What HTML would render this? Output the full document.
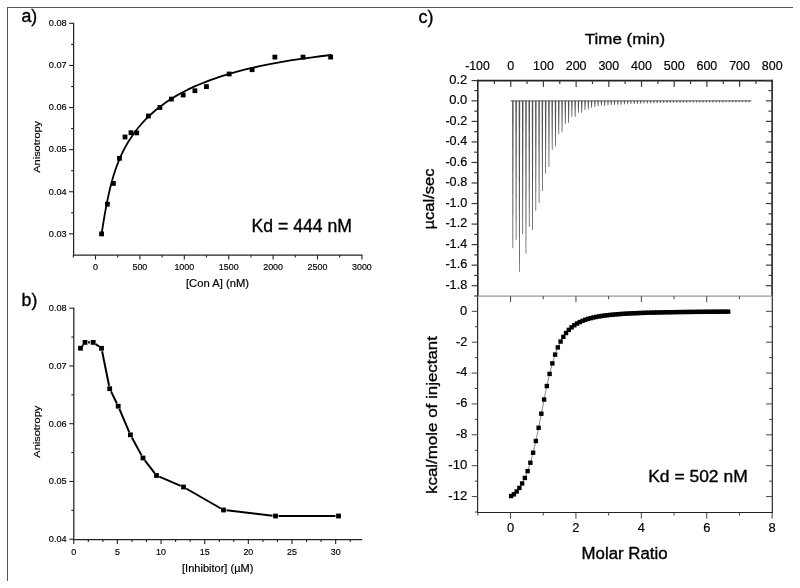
<!DOCTYPE html>
<html><head><meta charset="utf-8"><title>Figure</title>
<style>html,body{margin:0;padding:0;background:#fff}svg{display:block}text{font-family:"Liberation Sans",Arial,Helvetica,sans-serif}</style>
</head><body>
<svg width="800" height="588" viewBox="0 0 800 588">
<rect width="800" height="588" fill="#fff"/>
<line x1="7.00" y1="7.50" x2="793.00" y2="7.50" stroke="#555" stroke-width="1" />
<line x1="7.50" y1="7.00" x2="7.50" y2="581.00" stroke="#555" stroke-width="1" />
<line x1="73.60" y1="22.85" x2="73.60" y2="255.60" stroke="#222" stroke-width="1.25" />
<line x1="73.00" y1="255.00" x2="362.40" y2="255.00" stroke="#222" stroke-width="1.25" />
<line x1="69.10" y1="233.85" x2="73.60" y2="233.85" stroke="#222" stroke-width="1.1" />
<text x="66.60" y="236.65" font-size="9.4" text-anchor="end" fill="#000" stroke="#000" stroke-width="0.18" textLength="17.80" lengthAdjust="spacingAndGlyphs">0.03</text>
<line x1="71.10" y1="212.80" x2="73.60" y2="212.80" stroke="#222" stroke-width="1.1" />
<line x1="69.10" y1="191.75" x2="73.60" y2="191.75" stroke="#222" stroke-width="1.1" />
<text x="66.60" y="194.55" font-size="9.4" text-anchor="end" fill="#000" stroke="#000" stroke-width="0.18" textLength="17.80" lengthAdjust="spacingAndGlyphs">0.04</text>
<line x1="71.10" y1="170.70" x2="73.60" y2="170.70" stroke="#222" stroke-width="1.1" />
<line x1="69.10" y1="149.65" x2="73.60" y2="149.65" stroke="#222" stroke-width="1.1" />
<text x="66.60" y="152.45" font-size="9.4" text-anchor="end" fill="#000" stroke="#000" stroke-width="0.18" textLength="17.80" lengthAdjust="spacingAndGlyphs">0.05</text>
<line x1="71.10" y1="128.60" x2="73.60" y2="128.60" stroke="#222" stroke-width="1.1" />
<line x1="69.10" y1="107.55" x2="73.60" y2="107.55" stroke="#222" stroke-width="1.1" />
<text x="66.60" y="110.35" font-size="9.4" text-anchor="end" fill="#000" stroke="#000" stroke-width="0.18" textLength="17.80" lengthAdjust="spacingAndGlyphs">0.06</text>
<line x1="71.10" y1="86.50" x2="73.60" y2="86.50" stroke="#222" stroke-width="1.1" />
<line x1="69.10" y1="65.45" x2="73.60" y2="65.45" stroke="#222" stroke-width="1.1" />
<text x="66.60" y="68.25" font-size="9.4" text-anchor="end" fill="#000" stroke="#000" stroke-width="0.18" textLength="17.80" lengthAdjust="spacingAndGlyphs">0.07</text>
<line x1="71.10" y1="44.40" x2="73.60" y2="44.40" stroke="#222" stroke-width="1.1" />
<line x1="69.10" y1="23.35" x2="73.60" y2="23.35" stroke="#222" stroke-width="1.1" />
<text x="66.60" y="26.15" font-size="9.4" text-anchor="end" fill="#000" stroke="#000" stroke-width="0.18" textLength="17.80" lengthAdjust="spacingAndGlyphs">0.08</text>
<line x1="73.30" y1="255.00" x2="73.30" y2="257.50" stroke="#222" stroke-width="1.1" />
<line x1="95.50" y1="255.00" x2="95.50" y2="259.50" stroke="#222" stroke-width="1.1" />
<text x="95.50" y="269.80" font-size="9.4" text-anchor="middle" fill="#000" stroke="#000" stroke-width="0.18" textLength="4.95" lengthAdjust="spacingAndGlyphs">0</text>
<line x1="117.70" y1="255.00" x2="117.70" y2="257.50" stroke="#222" stroke-width="1.1" />
<line x1="139.90" y1="255.00" x2="139.90" y2="259.50" stroke="#222" stroke-width="1.1" />
<text x="139.90" y="269.80" font-size="9.4" text-anchor="middle" fill="#000" stroke="#000" stroke-width="0.18" textLength="14.85" lengthAdjust="spacingAndGlyphs">500</text>
<line x1="162.10" y1="255.00" x2="162.10" y2="257.50" stroke="#222" stroke-width="1.1" />
<line x1="184.30" y1="255.00" x2="184.30" y2="259.50" stroke="#222" stroke-width="1.1" />
<text x="184.30" y="269.80" font-size="9.4" text-anchor="middle" fill="#000" stroke="#000" stroke-width="0.18" textLength="19.80" lengthAdjust="spacingAndGlyphs">1000</text>
<line x1="206.50" y1="255.00" x2="206.50" y2="257.50" stroke="#222" stroke-width="1.1" />
<line x1="228.70" y1="255.00" x2="228.70" y2="259.50" stroke="#222" stroke-width="1.1" />
<text x="228.70" y="269.80" font-size="9.4" text-anchor="middle" fill="#000" stroke="#000" stroke-width="0.18" textLength="19.80" lengthAdjust="spacingAndGlyphs">1500</text>
<line x1="250.90" y1="255.00" x2="250.90" y2="257.50" stroke="#222" stroke-width="1.1" />
<line x1="273.10" y1="255.00" x2="273.10" y2="259.50" stroke="#222" stroke-width="1.1" />
<text x="273.10" y="269.80" font-size="9.4" text-anchor="middle" fill="#000" stroke="#000" stroke-width="0.18" textLength="19.80" lengthAdjust="spacingAndGlyphs">2000</text>
<line x1="295.30" y1="255.00" x2="295.30" y2="257.50" stroke="#222" stroke-width="1.1" />
<line x1="317.50" y1="255.00" x2="317.50" y2="259.50" stroke="#222" stroke-width="1.1" />
<text x="317.50" y="269.80" font-size="9.4" text-anchor="middle" fill="#000" stroke="#000" stroke-width="0.18" textLength="19.80" lengthAdjust="spacingAndGlyphs">2500</text>
<line x1="339.70" y1="255.00" x2="339.70" y2="257.50" stroke="#222" stroke-width="1.1" />
<line x1="361.90" y1="255.00" x2="361.90" y2="259.50" stroke="#222" stroke-width="1.1" />
<text x="361.90" y="269.80" font-size="9.4" text-anchor="middle" fill="#000" stroke="#000" stroke-width="0.18" textLength="19.80" lengthAdjust="spacingAndGlyphs">3000</text>
<text x="40.20" y="146.80" font-size="9.5" text-anchor="middle" fill="#000" stroke="#000" stroke-width="0.18" textLength="51.80" lengthAdjust="spacingAndGlyphs" transform="rotate(-90 40.20 146.80)">Anisotropy</text>
<text x="217.50" y="286.80" font-size="10.3" text-anchor="middle" fill="#000" stroke="#000" stroke-width="0.18" textLength="63.00" lengthAdjust="spacingAndGlyphs">[Con A] (nM)</text>
<text x="251.50" y="231.80" font-size="18" text-anchor="start" fill="#000" stroke="#000" stroke-width="0.35" textLength="100.50" lengthAdjust="spacingAndGlyphs">Kd = 444 nM</text>
<text x="21.50" y="22.00" font-size="17.6" text-anchor="start" fill="#000" stroke="#000" stroke-width="0.35" textLength="15.80" lengthAdjust="spacingAndGlyphs">a)</text>
<path d="M101.56,233.98 L101.75,232.84 L101.95,231.62 L102.15,230.34 L102.37,228.98 L102.60,227.56 L102.84,226.07 L103.08,224.51 L103.34,222.90 L103.62,221.22 L103.90,219.49 L104.20,217.70 L104.51,215.86 L104.84,213.97 L105.18,212.03 L105.54,210.04 L105.91,208.00 L106.30,205.92 L106.71,203.80 L107.14,201.64 L107.59,199.44 L108.06,197.21 L108.55,194.95 L109.07,192.66 L109.61,190.34 L110.17,188.00 L110.76,185.65 L111.38,183.27 L112.02,180.89 L112.70,178.50 L113.41,176.10 L114.15,173.70 L114.93,171.29 L115.74,168.90 L116.59,166.51 L117.48,164.12 L118.41,161.75 L119.38,159.39 L120.40,157.04 L121.46,154.69 L122.58,152.35 L123.75,150.02 L124.97,147.69 L126.25,145.37 L127.59,143.06 L128.99,140.75 L130.46,138.44 L131.99,136.14 L133.60,133.85 L135.28,131.56 L137.04,129.28 L138.88,127.00 L140.81,124.73 L142.83,122.46 L144.94,120.21 L147.15,117.96 L149.46,115.71 L151.88,113.48 L154.41,111.26 L157.06,109.05 L159.84,106.85 L162.74,104.67 L165.78,102.50 L168.96,100.36 L172.29,98.23 L175.77,96.12 L179.42,94.03 L183.23,91.97 L187.23,89.93 L191.41,87.92 L195.78,85.94 L200.36,83.98 L205.15,82.05 L210.16,80.16 L215.41,78.29 L220.90,76.46 L226.65,74.66 L232.66,72.90 L238.96,71.17 L245.55,69.49 L252.44,67.84 L259.66,66.23 L267.21,64.66 L275.11,63.14 L283.39,61.66 L292.04,60.23 L301.11,58.85 L310.59,57.52 L320.51,56.24 L330.90,55.01" fill="none" stroke="#000" stroke-width="1.8" stroke-linejoin="round" stroke-linecap="round"/>
<rect x="99.16" y="231.50" width="4.8" height="4.8" fill="#000"/>
<rect x="105.00" y="201.80" width="4.8" height="4.8" fill="#000"/>
<rect x="111.00" y="181.00" width="4.8" height="4.8" fill="#000"/>
<rect x="117.10" y="155.90" width="4.8" height="4.8" fill="#000"/>
<rect x="122.60" y="134.60" width="4.8" height="4.8" fill="#000"/>
<rect x="128.60" y="130.30" width="4.8" height="4.8" fill="#000"/>
<rect x="134.30" y="130.50" width="4.8" height="4.8" fill="#000"/>
<rect x="146.00" y="113.60" width="4.8" height="4.8" fill="#000"/>
<rect x="157.50" y="105.10" width="4.8" height="4.8" fill="#000"/>
<rect x="169.00" y="96.70" width="4.8" height="4.8" fill="#000"/>
<rect x="180.80" y="92.60" width="4.8" height="4.8" fill="#000"/>
<rect x="192.50" y="88.30" width="4.8" height="4.8" fill="#000"/>
<rect x="204.05" y="84.20" width="4.8" height="4.8" fill="#000"/>
<rect x="226.80" y="71.60" width="4.8" height="4.8" fill="#000"/>
<rect x="249.70" y="67.30" width="4.8" height="4.8" fill="#000"/>
<rect x="272.45" y="54.70" width="4.8" height="4.8" fill="#000"/>
<rect x="300.60" y="54.70" width="4.8" height="4.8" fill="#000"/>
<rect x="328.25" y="54.70" width="4.8" height="4.8" fill="#000"/>
<line x1="73.80" y1="307.70" x2="73.80" y2="540.10" stroke="#222" stroke-width="1.25" />
<line x1="73.20" y1="539.50" x2="362.14" y2="539.50" stroke="#222" stroke-width="1.25" />
<line x1="69.30" y1="539.20" x2="73.80" y2="539.20" stroke="#222" stroke-width="1.1" />
<text x="66.60" y="542.00" font-size="9.4" text-anchor="end" fill="#000" stroke="#000" stroke-width="0.18" textLength="17.80" lengthAdjust="spacingAndGlyphs">0.04</text>
<line x1="71.30" y1="510.33" x2="73.80" y2="510.33" stroke="#222" stroke-width="1.1" />
<line x1="69.30" y1="481.45" x2="73.80" y2="481.45" stroke="#222" stroke-width="1.1" />
<text x="66.60" y="484.25" font-size="9.4" text-anchor="end" fill="#000" stroke="#000" stroke-width="0.18" textLength="17.80" lengthAdjust="spacingAndGlyphs">0.05</text>
<line x1="71.30" y1="452.58" x2="73.80" y2="452.58" stroke="#222" stroke-width="1.1" />
<line x1="69.30" y1="423.70" x2="73.80" y2="423.70" stroke="#222" stroke-width="1.1" />
<text x="66.60" y="426.50" font-size="9.4" text-anchor="end" fill="#000" stroke="#000" stroke-width="0.18" textLength="17.80" lengthAdjust="spacingAndGlyphs">0.06</text>
<line x1="71.30" y1="394.83" x2="73.80" y2="394.83" stroke="#222" stroke-width="1.1" />
<line x1="69.30" y1="365.95" x2="73.80" y2="365.95" stroke="#222" stroke-width="1.1" />
<text x="66.60" y="368.75" font-size="9.4" text-anchor="end" fill="#000" stroke="#000" stroke-width="0.18" textLength="17.80" lengthAdjust="spacingAndGlyphs">0.07</text>
<line x1="71.30" y1="337.08" x2="73.80" y2="337.08" stroke="#222" stroke-width="1.1" />
<line x1="69.30" y1="308.20" x2="73.80" y2="308.20" stroke="#222" stroke-width="1.1" />
<text x="66.60" y="311.00" font-size="9.4" text-anchor="end" fill="#000" stroke="#000" stroke-width="0.18" textLength="17.80" lengthAdjust="spacingAndGlyphs">0.08</text>
<line x1="73.75" y1="539.50" x2="73.75" y2="544.00" stroke="#222" stroke-width="1.1" />
<text x="73.75" y="554.60" font-size="9.4" text-anchor="middle" fill="#000" stroke="#000" stroke-width="0.18" textLength="4.95" lengthAdjust="spacingAndGlyphs">0</text>
<line x1="88.30" y1="539.50" x2="88.30" y2="542.00" stroke="#222" stroke-width="1.1" />
<line x1="102.85" y1="539.50" x2="102.85" y2="542.00" stroke="#222" stroke-width="1.1" />
<line x1="117.40" y1="539.50" x2="117.40" y2="544.00" stroke="#222" stroke-width="1.1" />
<text x="117.40" y="554.60" font-size="9.4" text-anchor="middle" fill="#000" stroke="#000" stroke-width="0.18" textLength="4.95" lengthAdjust="spacingAndGlyphs">5</text>
<line x1="131.95" y1="539.50" x2="131.95" y2="542.00" stroke="#222" stroke-width="1.1" />
<line x1="146.50" y1="539.50" x2="146.50" y2="542.00" stroke="#222" stroke-width="1.1" />
<line x1="161.05" y1="539.50" x2="161.05" y2="544.00" stroke="#222" stroke-width="1.1" />
<text x="161.05" y="554.60" font-size="9.4" text-anchor="middle" fill="#000" stroke="#000" stroke-width="0.18" textLength="9.90" lengthAdjust="spacingAndGlyphs">10</text>
<line x1="175.60" y1="539.50" x2="175.60" y2="542.00" stroke="#222" stroke-width="1.1" />
<line x1="190.15" y1="539.50" x2="190.15" y2="542.00" stroke="#222" stroke-width="1.1" />
<line x1="204.70" y1="539.50" x2="204.70" y2="544.00" stroke="#222" stroke-width="1.1" />
<text x="204.70" y="554.60" font-size="9.4" text-anchor="middle" fill="#000" stroke="#000" stroke-width="0.18" textLength="9.90" lengthAdjust="spacingAndGlyphs">15</text>
<line x1="219.25" y1="539.50" x2="219.25" y2="542.00" stroke="#222" stroke-width="1.1" />
<line x1="233.80" y1="539.50" x2="233.80" y2="542.00" stroke="#222" stroke-width="1.1" />
<line x1="248.35" y1="539.50" x2="248.35" y2="544.00" stroke="#222" stroke-width="1.1" />
<text x="248.35" y="554.60" font-size="9.4" text-anchor="middle" fill="#000" stroke="#000" stroke-width="0.18" textLength="9.90" lengthAdjust="spacingAndGlyphs">20</text>
<line x1="262.90" y1="539.50" x2="262.90" y2="542.00" stroke="#222" stroke-width="1.1" />
<line x1="277.45" y1="539.50" x2="277.45" y2="542.00" stroke="#222" stroke-width="1.1" />
<line x1="292.00" y1="539.50" x2="292.00" y2="544.00" stroke="#222" stroke-width="1.1" />
<text x="292.00" y="554.60" font-size="9.4" text-anchor="middle" fill="#000" stroke="#000" stroke-width="0.18" textLength="9.90" lengthAdjust="spacingAndGlyphs">25</text>
<line x1="306.55" y1="539.50" x2="306.55" y2="542.00" stroke="#222" stroke-width="1.1" />
<line x1="321.10" y1="539.50" x2="321.10" y2="542.00" stroke="#222" stroke-width="1.1" />
<line x1="335.65" y1="539.50" x2="335.65" y2="544.00" stroke="#222" stroke-width="1.1" />
<text x="335.65" y="554.60" font-size="9.4" text-anchor="middle" fill="#000" stroke="#000" stroke-width="0.18" textLength="9.90" lengthAdjust="spacingAndGlyphs">30</text>
<line x1="350.20" y1="539.50" x2="350.20" y2="542.00" stroke="#222" stroke-width="1.1" />
<text x="40.20" y="431.70" font-size="9.5" text-anchor="middle" fill="#000" stroke="#000" stroke-width="0.18" textLength="52.00" lengthAdjust="spacingAndGlyphs" transform="rotate(-90 40.20 431.70)">Anisotropy</text>
<text x="217.70" y="571.90" font-size="10.3" text-anchor="middle" fill="#000" stroke="#000" stroke-width="0.18" textLength="71.30" lengthAdjust="spacingAndGlyphs">[Inhibitor] (µM)</text>
<text x="21.50" y="306.00" font-size="18" text-anchor="start" fill="#000" stroke="#000" stroke-width="0.35" textLength="15.80" lengthAdjust="spacingAndGlyphs">b)</text>
<line x1="82.34" y1="345.83" x2="83.16" y2="344.77" stroke="#000" stroke-width="2.0" />
<line x1="88.00" y1="342.40" x2="90.20" y2="342.40" stroke="#000" stroke-width="2.0" />
<line x1="95.65" y1="344.14" x2="99.05" y2="346.56" stroke="#000" stroke-width="2.0" />
<line x1="102.10" y1="351.24" x2="109.10" y2="385.76" stroke="#000" stroke-width="2.0" />
<line x1="111.01" y1="391.40" x2="116.89" y2="403.50" stroke="#000" stroke-width="2.0" />
<line x1="119.38" y1="408.96" x2="129.22" y2="432.04" stroke="#000" stroke-width="2.0" />
<line x1="131.83" y1="437.44" x2="141.57" y2="455.36" stroke="#000" stroke-width="2.0" />
<line x1="144.83" y1="460.38" x2="154.67" y2="473.12" stroke="#000" stroke-width="2.0" />
<line x1="159.26" y1="476.68" x2="180.74" y2="485.82" stroke="#000" stroke-width="2.0" />
<line x1="186.10" y1="488.50" x2="220.90" y2="508.50" stroke="#000" stroke-width="2.0" />
<line x1="226.48" y1="510.34" x2="272.52" y2="515.66" stroke="#000" stroke-width="2.0" />
<line x1="278.50" y1="516.00" x2="335.50" y2="516.00" stroke="#000" stroke-width="2.0" />
<rect x="78.10" y="345.80" width="4.8" height="4.8" fill="#000"/>
<rect x="82.60" y="340.00" width="4.8" height="4.8" fill="#000"/>
<rect x="90.80" y="340.00" width="4.8" height="4.8" fill="#000"/>
<rect x="99.10" y="345.90" width="4.8" height="4.8" fill="#000"/>
<rect x="107.30" y="386.30" width="4.8" height="4.8" fill="#000"/>
<rect x="115.80" y="403.80" width="4.8" height="4.8" fill="#000"/>
<rect x="128.00" y="432.40" width="4.8" height="4.8" fill="#000"/>
<rect x="140.60" y="455.60" width="4.8" height="4.8" fill="#000"/>
<rect x="154.10" y="473.10" width="4.8" height="4.8" fill="#000"/>
<rect x="181.10" y="484.60" width="4.8" height="4.8" fill="#000"/>
<rect x="221.10" y="507.60" width="4.8" height="4.8" fill="#000"/>
<rect x="273.10" y="513.60" width="4.8" height="4.8" fill="#000"/>
<rect x="336.10" y="513.60" width="4.8" height="4.8" fill="#000"/>
<line x1="477.80" y1="79.80" x2="477.80" y2="296.20" stroke="#222" stroke-width="1.6" />
<line x1="772.10" y1="79.80" x2="772.10" y2="296.20" stroke="#222" stroke-width="1.6" />
<line x1="477.10" y1="80.60" x2="772.80" y2="80.60" stroke="#222" stroke-width="1.6" />
<line x1="471.60" y1="80.60" x2="477.80" y2="80.60" stroke="#3a3a3a" stroke-width="1.2" />
<line x1="765.90" y1="80.60" x2="772.10" y2="80.60" stroke="#3a3a3a" stroke-width="1.2" />
<text x="467.20" y="83.90" font-size="12.4" text-anchor="end" fill="#000" stroke="#000" stroke-width="0.18" textLength="18.00" lengthAdjust="spacingAndGlyphs">0.2</text>
<line x1="474.20" y1="90.58" x2="477.80" y2="90.58" stroke="#3a3a3a" stroke-width="1.2" />
<line x1="768.50" y1="90.58" x2="772.10" y2="90.58" stroke="#3a3a3a" stroke-width="1.2" />
<line x1="471.60" y1="100.85" x2="477.80" y2="100.85" stroke="#3a3a3a" stroke-width="1.2" />
<line x1="765.90" y1="100.85" x2="772.10" y2="100.85" stroke="#3a3a3a" stroke-width="1.2" />
<text x="467.20" y="104.15" font-size="12.4" text-anchor="end" fill="#000" stroke="#000" stroke-width="0.18" textLength="18.00" lengthAdjust="spacingAndGlyphs">0.0</text>
<line x1="474.20" y1="111.12" x2="477.80" y2="111.12" stroke="#3a3a3a" stroke-width="1.2" />
<line x1="768.50" y1="111.12" x2="772.10" y2="111.12" stroke="#3a3a3a" stroke-width="1.2" />
<line x1="471.60" y1="121.39" x2="477.80" y2="121.39" stroke="#3a3a3a" stroke-width="1.2" />
<line x1="765.90" y1="121.39" x2="772.10" y2="121.39" stroke="#3a3a3a" stroke-width="1.2" />
<text x="467.20" y="124.69" font-size="12.4" text-anchor="end" fill="#000" stroke="#000" stroke-width="0.18" textLength="21.80" lengthAdjust="spacingAndGlyphs">-0.2</text>
<line x1="474.20" y1="131.66" x2="477.80" y2="131.66" stroke="#3a3a3a" stroke-width="1.2" />
<line x1="768.50" y1="131.66" x2="772.10" y2="131.66" stroke="#3a3a3a" stroke-width="1.2" />
<line x1="471.60" y1="141.93" x2="477.80" y2="141.93" stroke="#3a3a3a" stroke-width="1.2" />
<line x1="765.90" y1="141.93" x2="772.10" y2="141.93" stroke="#3a3a3a" stroke-width="1.2" />
<text x="467.20" y="145.23" font-size="12.4" text-anchor="end" fill="#000" stroke="#000" stroke-width="0.18" textLength="21.80" lengthAdjust="spacingAndGlyphs">-0.4</text>
<line x1="474.20" y1="152.20" x2="477.80" y2="152.20" stroke="#3a3a3a" stroke-width="1.2" />
<line x1="768.50" y1="152.20" x2="772.10" y2="152.20" stroke="#3a3a3a" stroke-width="1.2" />
<line x1="471.60" y1="162.47" x2="477.80" y2="162.47" stroke="#3a3a3a" stroke-width="1.2" />
<line x1="765.90" y1="162.47" x2="772.10" y2="162.47" stroke="#3a3a3a" stroke-width="1.2" />
<text x="467.20" y="165.77" font-size="12.4" text-anchor="end" fill="#000" stroke="#000" stroke-width="0.18" textLength="21.80" lengthAdjust="spacingAndGlyphs">-0.6</text>
<line x1="474.20" y1="172.74" x2="477.80" y2="172.74" stroke="#3a3a3a" stroke-width="1.2" />
<line x1="768.50" y1="172.74" x2="772.10" y2="172.74" stroke="#3a3a3a" stroke-width="1.2" />
<line x1="471.60" y1="183.01" x2="477.80" y2="183.01" stroke="#3a3a3a" stroke-width="1.2" />
<line x1="765.90" y1="183.01" x2="772.10" y2="183.01" stroke="#3a3a3a" stroke-width="1.2" />
<text x="467.20" y="186.31" font-size="12.4" text-anchor="end" fill="#000" stroke="#000" stroke-width="0.18" textLength="21.80" lengthAdjust="spacingAndGlyphs">-0.8</text>
<line x1="474.20" y1="193.28" x2="477.80" y2="193.28" stroke="#3a3a3a" stroke-width="1.2" />
<line x1="768.50" y1="193.28" x2="772.10" y2="193.28" stroke="#3a3a3a" stroke-width="1.2" />
<line x1="471.60" y1="203.55" x2="477.80" y2="203.55" stroke="#3a3a3a" stroke-width="1.2" />
<line x1="765.90" y1="203.55" x2="772.10" y2="203.55" stroke="#3a3a3a" stroke-width="1.2" />
<text x="467.20" y="206.85" font-size="12.4" text-anchor="end" fill="#000" stroke="#000" stroke-width="0.18" textLength="21.80" lengthAdjust="spacingAndGlyphs">-1.0</text>
<line x1="474.20" y1="213.82" x2="477.80" y2="213.82" stroke="#3a3a3a" stroke-width="1.2" />
<line x1="768.50" y1="213.82" x2="772.10" y2="213.82" stroke="#3a3a3a" stroke-width="1.2" />
<line x1="471.60" y1="224.09" x2="477.80" y2="224.09" stroke="#3a3a3a" stroke-width="1.2" />
<line x1="765.90" y1="224.09" x2="772.10" y2="224.09" stroke="#3a3a3a" stroke-width="1.2" />
<text x="467.20" y="227.39" font-size="12.4" text-anchor="end" fill="#000" stroke="#000" stroke-width="0.18" textLength="21.80" lengthAdjust="spacingAndGlyphs">-1.2</text>
<line x1="474.20" y1="234.36" x2="477.80" y2="234.36" stroke="#3a3a3a" stroke-width="1.2" />
<line x1="768.50" y1="234.36" x2="772.10" y2="234.36" stroke="#3a3a3a" stroke-width="1.2" />
<line x1="471.60" y1="244.63" x2="477.80" y2="244.63" stroke="#3a3a3a" stroke-width="1.2" />
<line x1="765.90" y1="244.63" x2="772.10" y2="244.63" stroke="#3a3a3a" stroke-width="1.2" />
<text x="467.20" y="247.93" font-size="12.4" text-anchor="end" fill="#000" stroke="#000" stroke-width="0.18" textLength="21.80" lengthAdjust="spacingAndGlyphs">-1.4</text>
<line x1="474.20" y1="254.90" x2="477.80" y2="254.90" stroke="#3a3a3a" stroke-width="1.2" />
<line x1="768.50" y1="254.90" x2="772.10" y2="254.90" stroke="#3a3a3a" stroke-width="1.2" />
<line x1="471.60" y1="265.17" x2="477.80" y2="265.17" stroke="#3a3a3a" stroke-width="1.2" />
<line x1="765.90" y1="265.17" x2="772.10" y2="265.17" stroke="#3a3a3a" stroke-width="1.2" />
<text x="467.20" y="268.47" font-size="12.4" text-anchor="end" fill="#000" stroke="#000" stroke-width="0.18" textLength="21.80" lengthAdjust="spacingAndGlyphs">-1.6</text>
<line x1="474.20" y1="275.44" x2="477.80" y2="275.44" stroke="#3a3a3a" stroke-width="1.2" />
<line x1="768.50" y1="275.44" x2="772.10" y2="275.44" stroke="#3a3a3a" stroke-width="1.2" />
<line x1="471.60" y1="285.71" x2="477.80" y2="285.71" stroke="#3a3a3a" stroke-width="1.2" />
<line x1="765.90" y1="285.71" x2="772.10" y2="285.71" stroke="#3a3a3a" stroke-width="1.2" />
<text x="467.20" y="289.01" font-size="12.4" text-anchor="end" fill="#000" stroke="#000" stroke-width="0.18" textLength="21.80" lengthAdjust="spacingAndGlyphs">-1.8</text>
<line x1="474.20" y1="295.98" x2="477.80" y2="295.98" stroke="#3a3a3a" stroke-width="1.2" />
<line x1="494.40" y1="80.60" x2="494.40" y2="84.00" stroke="#3a3a3a" stroke-width="1.2" />
<line x1="510.75" y1="80.60" x2="510.75" y2="86.90" stroke="#3a3a3a" stroke-width="1.2" />
<line x1="527.10" y1="80.60" x2="527.10" y2="84.00" stroke="#3a3a3a" stroke-width="1.2" />
<line x1="543.44" y1="80.60" x2="543.44" y2="86.90" stroke="#3a3a3a" stroke-width="1.2" />
<line x1="559.78" y1="80.60" x2="559.78" y2="84.00" stroke="#3a3a3a" stroke-width="1.2" />
<line x1="576.13" y1="80.60" x2="576.13" y2="86.90" stroke="#3a3a3a" stroke-width="1.2" />
<line x1="592.48" y1="80.60" x2="592.48" y2="84.00" stroke="#3a3a3a" stroke-width="1.2" />
<line x1="608.82" y1="80.60" x2="608.82" y2="86.90" stroke="#3a3a3a" stroke-width="1.2" />
<line x1="625.16" y1="80.60" x2="625.16" y2="84.00" stroke="#3a3a3a" stroke-width="1.2" />
<line x1="641.51" y1="80.60" x2="641.51" y2="86.90" stroke="#3a3a3a" stroke-width="1.2" />
<line x1="657.86" y1="80.60" x2="657.86" y2="84.00" stroke="#3a3a3a" stroke-width="1.2" />
<line x1="674.20" y1="80.60" x2="674.20" y2="86.90" stroke="#3a3a3a" stroke-width="1.2" />
<line x1="690.55" y1="80.60" x2="690.55" y2="84.00" stroke="#3a3a3a" stroke-width="1.2" />
<line x1="706.89" y1="80.60" x2="706.89" y2="86.90" stroke="#3a3a3a" stroke-width="1.2" />
<line x1="723.24" y1="80.60" x2="723.24" y2="84.00" stroke="#3a3a3a" stroke-width="1.2" />
<line x1="739.58" y1="80.60" x2="739.58" y2="86.90" stroke="#3a3a3a" stroke-width="1.2" />
<line x1="755.92" y1="80.60" x2="755.92" y2="84.00" stroke="#3a3a3a" stroke-width="1.2" />
<text x="477.46" y="70.30" font-size="12.4" text-anchor="middle" fill="#000" stroke="#000" stroke-width="0.18" textLength="24.50" lengthAdjust="spacingAndGlyphs">-100</text>
<text x="510.75" y="70.30" font-size="12.4" text-anchor="middle" fill="#000" stroke="#000" stroke-width="0.18" textLength="7.00" lengthAdjust="spacingAndGlyphs">0</text>
<text x="543.44" y="70.30" font-size="12.4" text-anchor="middle" fill="#000" stroke="#000" stroke-width="0.18" textLength="20.80" lengthAdjust="spacingAndGlyphs">100</text>
<text x="576.13" y="70.30" font-size="12.4" text-anchor="middle" fill="#000" stroke="#000" stroke-width="0.18" textLength="20.80" lengthAdjust="spacingAndGlyphs">200</text>
<text x="608.82" y="70.30" font-size="12.4" text-anchor="middle" fill="#000" stroke="#000" stroke-width="0.18" textLength="20.80" lengthAdjust="spacingAndGlyphs">300</text>
<text x="641.51" y="70.30" font-size="12.4" text-anchor="middle" fill="#000" stroke="#000" stroke-width="0.18" textLength="20.80" lengthAdjust="spacingAndGlyphs">400</text>
<text x="674.20" y="70.30" font-size="12.4" text-anchor="middle" fill="#000" stroke="#000" stroke-width="0.18" textLength="20.80" lengthAdjust="spacingAndGlyphs">500</text>
<text x="706.89" y="70.30" font-size="12.4" text-anchor="middle" fill="#000" stroke="#000" stroke-width="0.18" textLength="20.80" lengthAdjust="spacingAndGlyphs">600</text>
<text x="739.58" y="70.30" font-size="12.4" text-anchor="middle" fill="#000" stroke="#000" stroke-width="0.18" textLength="20.80" lengthAdjust="spacingAndGlyphs">700</text>
<text x="772.27" y="70.30" font-size="12.4" text-anchor="middle" fill="#000" stroke="#000" stroke-width="0.18" textLength="20.80" lengthAdjust="spacingAndGlyphs">800</text>
<text x="625.00" y="44.20" font-size="15.4" text-anchor="middle" fill="#000" stroke="#000" stroke-width="0.35" textLength="80.30" lengthAdjust="spacingAndGlyphs">Time (min)</text>
<text x="433.90" y="199.00" font-size="14.2" text-anchor="middle" fill="#000" stroke="#000" stroke-width="0.35" textLength="61.00" lengthAdjust="spacingAndGlyphs" transform="rotate(-90 433.90 199.00)">µcal/sec</text>
<text x="418.50" y="22.80" font-size="17.8" text-anchor="start" fill="#000" stroke="#000" stroke-width="0.35" textLength="15.00" lengthAdjust="spacingAndGlyphs">c)</text>
<polygon points="512.10,100.8 513.60,100.8 513.20,248.20 512.50,248.20" fill="#333" fill-opacity="0.85"/>
<polygon points="515.38,100.8 516.88,100.8 516.48,239.80 515.78,239.80" fill="#333" fill-opacity="0.85"/>
<polygon points="518.66,100.8 520.16,100.8 519.76,272.10 519.06,272.10" fill="#333" fill-opacity="0.85"/>
<polygon points="521.94,100.8 523.44,100.8 523.04,234.20 522.34,234.20" fill="#333" fill-opacity="0.85"/>
<polygon points="525.22,100.8 526.72,100.8 526.32,253.50 525.62,253.50" fill="#333" fill-opacity="0.85"/>
<polygon points="528.50,100.8 530.00,100.8 529.60,226.70 528.90,226.70" fill="#333" fill-opacity="0.85"/>
<polygon points="531.78,100.8 533.28,100.8 532.88,230.00 532.18,230.00" fill="#333" fill-opacity="0.85"/>
<polygon points="535.06,100.8 536.56,100.8 536.16,210.80 535.46,210.80" fill="#333" fill-opacity="0.85"/>
<polygon points="538.34,100.8 539.84,100.8 539.44,203.00 538.74,203.00" fill="#333" fill-opacity="0.85"/>
<polygon points="541.62,100.8 543.12,100.8 542.72,191.00 542.02,191.00" fill="#333" fill-opacity="0.85"/>
<polygon points="544.90,100.8 546.40,100.8 546.00,173.50 545.30,173.50" fill="#333" fill-opacity="0.85"/>
<polygon points="548.18,100.8 549.68,100.8 549.28,167.00 548.58,167.00" fill="#333" fill-opacity="0.85"/>
<polygon points="551.46,100.8 552.96,100.8 552.56,150.00 551.86,150.00" fill="#333" fill-opacity="0.85"/>
<polygon points="554.74,100.8 556.24,100.8 555.84,146.40 555.14,146.40" fill="#333" fill-opacity="0.85"/>
<polygon points="558.02,100.8 559.52,100.8 559.12,134.30 558.42,134.30" fill="#333" fill-opacity="0.85"/>
<polygon points="561.30,100.8 562.80,100.8 562.40,132.40 561.70,132.40" fill="#333" fill-opacity="0.85"/>
<polygon points="564.58,100.8 566.08,100.8 565.68,124.00 564.98,124.00" fill="#333" fill-opacity="0.85"/>
<polygon points="567.86,100.8 569.36,100.8 568.96,123.00 568.26,123.00" fill="#333" fill-opacity="0.85"/>
<polygon points="571.14,100.8 572.64,100.8 572.24,117.00 571.54,117.00" fill="#333" fill-opacity="0.85"/>
<polygon points="574.42,100.8 575.92,100.8 575.52,117.00 574.82,117.00" fill="#333" fill-opacity="0.85"/>
<polygon points="577.70,100.8 579.20,100.8 578.80,112.80 578.10,112.80" fill="#333" fill-opacity="0.85"/>
<polygon points="580.98,100.8 582.48,100.8 582.08,112.80 581.38,112.80" fill="#333" fill-opacity="0.85"/>
<polygon points="584.26,100.8 585.76,100.8 585.36,110.00 584.66,110.00" fill="#333" fill-opacity="0.85"/>
<polygon points="587.54,100.8 589.04,100.8 588.64,109.60 587.94,109.60" fill="#333" fill-opacity="0.85"/>
<polygon points="590.82,100.8 592.32,100.8 591.92,107.70 591.22,107.70" fill="#333" fill-opacity="0.85"/>
<polygon points="594.10,100.8 595.60,100.8 595.20,107.00 594.50,107.00" fill="#333" fill-opacity="0.85"/>
<polygon points="597.38,100.8 598.88,100.8 598.48,106.20 597.78,106.20" fill="#333" fill-opacity="0.85"/>
<polygon points="600.66,100.8 602.16,100.8 601.76,105.80 601.06,105.80" fill="#333" fill-opacity="0.85"/>
<polygon points="603.94,100.8 605.44,100.8 605.04,105.88 604.34,105.88" fill="#333" fill-opacity="0.85"/>
<polygon points="607.22,100.8 608.72,100.8 608.32,105.59 607.62,105.59" fill="#333" fill-opacity="0.85"/>
<polygon points="610.50,100.8 612.00,100.8 611.60,105.32 610.90,105.32" fill="#333" fill-opacity="0.85"/>
<polygon points="613.78,100.8 615.28,100.8 614.88,105.07 614.18,105.07" fill="#333" fill-opacity="0.85"/>
<polygon points="617.06,100.8 618.56,100.8 618.16,104.84 617.46,104.84" fill="#333" fill-opacity="0.85"/>
<polygon points="620.34,100.8 621.84,100.8 621.44,104.63 620.74,104.63" fill="#333" fill-opacity="0.85"/>
<polygon points="623.62,100.8 625.12,100.8 624.72,104.43 624.02,104.43" fill="#333" fill-opacity="0.85"/>
<polygon points="626.90,100.8 628.40,100.8 628.00,104.25 627.30,104.25" fill="#333" fill-opacity="0.85"/>
<polygon points="630.18,100.8 631.68,100.8 631.28,104.09 630.58,104.09" fill="#333" fill-opacity="0.85"/>
<polygon points="633.46,100.8 634.96,100.8 634.56,103.94 633.86,103.94" fill="#333" fill-opacity="0.85"/>
<polygon points="636.74,100.8 638.24,100.8 637.84,103.80 637.14,103.80" fill="#333" fill-opacity="0.85"/>
<polygon points="640.02,100.8 641.52,100.8 641.12,103.67 640.42,103.67" fill="#333" fill-opacity="0.85"/>
<polygon points="643.30,100.8 644.80,100.8 644.40,103.55 643.70,103.55" fill="#333" fill-opacity="0.85"/>
<polygon points="646.58,100.8 648.08,100.8 647.68,103.45 646.98,103.45" fill="#333" fill-opacity="0.85"/>
<polygon points="649.86,100.8 651.36,100.8 650.96,103.35 650.26,103.35" fill="#333" fill-opacity="0.85"/>
<polygon points="653.14,100.8 654.64,100.8 654.24,103.25 653.54,103.25" fill="#333" fill-opacity="0.85"/>
<polygon points="656.42,100.8 657.92,100.8 657.52,103.17 656.82,103.17" fill="#333" fill-opacity="0.85"/>
<polygon points="659.70,100.8 661.20,100.8 660.80,103.09 660.10,103.09" fill="#333" fill-opacity="0.85"/>
<polygon points="662.98,100.8 664.48,100.8 664.08,103.02 663.38,103.02" fill="#333" fill-opacity="0.85"/>
<polygon points="666.26,100.8 667.76,100.8 667.36,102.96 666.66,102.96" fill="#333" fill-opacity="0.85"/>
<polygon points="669.54,100.8 671.04,100.8 670.64,102.90 669.94,102.90" fill="#333" fill-opacity="0.85"/>
<polygon points="672.82,100.8 674.32,100.8 673.92,102.84 673.22,102.84" fill="#333" fill-opacity="0.85"/>
<polygon points="676.10,100.8 677.60,100.8 677.20,102.79 676.50,102.79" fill="#333" fill-opacity="0.85"/>
<polygon points="679.38,100.8 680.88,100.8 680.48,102.74 679.78,102.74" fill="#333" fill-opacity="0.85"/>
<polygon points="682.66,100.8 684.16,100.8 683.76,102.70 683.06,102.70" fill="#333" fill-opacity="0.85"/>
<polygon points="685.94,100.8 687.44,100.8 687.04,102.66 686.34,102.66" fill="#333" fill-opacity="0.85"/>
<polygon points="689.22,100.8 690.72,100.8 690.32,102.62 689.62,102.62" fill="#333" fill-opacity="0.85"/>
<polygon points="692.50,100.8 694.00,100.8 693.60,102.59 692.90,102.59" fill="#333" fill-opacity="0.85"/>
<polygon points="695.78,100.8 697.28,100.8 696.88,102.56 696.18,102.56" fill="#333" fill-opacity="0.85"/>
<polygon points="699.06,100.8 700.56,100.8 700.16,102.53 699.46,102.53" fill="#333" fill-opacity="0.85"/>
<polygon points="702.34,100.8 703.84,100.8 703.44,102.50 702.74,102.50" fill="#333" fill-opacity="0.85"/>
<polygon points="705.62,100.8 707.12,100.8 706.72,102.48 706.02,102.48" fill="#333" fill-opacity="0.85"/>
<polygon points="708.90,100.8 710.40,100.8 710.00,102.46 709.30,102.46" fill="#333" fill-opacity="0.85"/>
<polygon points="712.18,100.8 713.68,100.8 713.28,102.44 712.58,102.44" fill="#333" fill-opacity="0.85"/>
<polygon points="715.46,100.8 716.96,100.8 716.56,102.42 715.86,102.42" fill="#333" fill-opacity="0.85"/>
<polygon points="718.74,100.8 720.24,100.8 719.84,102.40 719.14,102.40" fill="#333" fill-opacity="0.85"/>
<polygon points="722.02,100.8 723.52,100.8 723.12,102.38 722.42,102.38" fill="#333" fill-opacity="0.85"/>
<polygon points="725.30,100.8 726.80,100.8 726.40,102.37 725.70,102.37" fill="#333" fill-opacity="0.85"/>
<polygon points="728.58,100.8 730.08,100.8 729.68,102.36 728.98,102.36" fill="#333" fill-opacity="0.85"/>
<polygon points="731.86,100.8 733.36,100.8 732.96,102.34 732.26,102.34" fill="#333" fill-opacity="0.85"/>
<polygon points="735.14,100.8 736.64,100.8 736.24,102.33 735.54,102.33" fill="#333" fill-opacity="0.85"/>
<polygon points="738.42,100.8 739.92,100.8 739.52,102.32 738.82,102.32" fill="#333" fill-opacity="0.85"/>
<polygon points="741.70,100.8 743.20,100.8 742.80,102.31 742.10,102.31" fill="#333" fill-opacity="0.85"/>
<polygon points="744.98,100.8 746.48,100.8 746.08,102.30 745.38,102.30" fill="#333" fill-opacity="0.85"/>
<polygon points="748.26,100.8 749.76,100.8 749.36,102.29 748.66,102.29" fill="#333" fill-opacity="0.85"/>
<line x1="510.60" y1="100.90" x2="751.50" y2="100.90" stroke="#333" stroke-width="1.0" stroke-opacity="0.8"/>
<line x1="477.60" y1="296.20" x2="477.60" y2="512.60" stroke="#222" stroke-width="1.15" />
<line x1="772.30" y1="296.20" x2="772.30" y2="512.60" stroke="#222" stroke-width="1.15" />
<line x1="477.80" y1="296.20" x2="772.10" y2="296.20" stroke="#999" stroke-width="1.3" />
<line x1="477.00" y1="512.45" x2="773.00" y2="512.45" stroke="#222" stroke-width="1.15" />
<line x1="474.80" y1="512.02" x2="477.80" y2="512.02" stroke="#444" stroke-width="1.0" />
<line x1="471.80" y1="496.58" x2="477.80" y2="496.58" stroke="#444" stroke-width="1.0" />
<line x1="766.10" y1="496.58" x2="772.10" y2="496.58" stroke="#444" stroke-width="1.0" />
<text x="467.30" y="499.98" font-size="12.4" text-anchor="end" fill="#000" stroke="#000" stroke-width="0.18" textLength="19.00" lengthAdjust="spacingAndGlyphs">-12</text>
<line x1="474.80" y1="481.14" x2="477.80" y2="481.14" stroke="#444" stroke-width="1.0" />
<line x1="769.10" y1="481.14" x2="772.10" y2="481.14" stroke="#444" stroke-width="1.0" />
<line x1="471.80" y1="465.70" x2="477.80" y2="465.70" stroke="#444" stroke-width="1.0" />
<line x1="766.10" y1="465.70" x2="772.10" y2="465.70" stroke="#444" stroke-width="1.0" />
<text x="467.30" y="469.10" font-size="12.4" text-anchor="end" fill="#000" stroke="#000" stroke-width="0.18" textLength="19.00" lengthAdjust="spacingAndGlyphs">-10</text>
<line x1="474.80" y1="450.26" x2="477.80" y2="450.26" stroke="#444" stroke-width="1.0" />
<line x1="769.10" y1="450.26" x2="772.10" y2="450.26" stroke="#444" stroke-width="1.0" />
<line x1="471.80" y1="434.82" x2="477.80" y2="434.82" stroke="#444" stroke-width="1.0" />
<line x1="766.10" y1="434.82" x2="772.10" y2="434.82" stroke="#444" stroke-width="1.0" />
<text x="467.30" y="438.22" font-size="12.4" text-anchor="end" fill="#000" stroke="#000" stroke-width="0.18" textLength="11.40" lengthAdjust="spacingAndGlyphs">-8</text>
<line x1="474.80" y1="419.38" x2="477.80" y2="419.38" stroke="#444" stroke-width="1.0" />
<line x1="769.10" y1="419.38" x2="772.10" y2="419.38" stroke="#444" stroke-width="1.0" />
<line x1="471.80" y1="403.94" x2="477.80" y2="403.94" stroke="#444" stroke-width="1.0" />
<line x1="766.10" y1="403.94" x2="772.10" y2="403.94" stroke="#444" stroke-width="1.0" />
<text x="467.30" y="407.34" font-size="12.4" text-anchor="end" fill="#000" stroke="#000" stroke-width="0.18" textLength="11.40" lengthAdjust="spacingAndGlyphs">-6</text>
<line x1="474.80" y1="388.50" x2="477.80" y2="388.50" stroke="#444" stroke-width="1.0" />
<line x1="769.10" y1="388.50" x2="772.10" y2="388.50" stroke="#444" stroke-width="1.0" />
<line x1="471.80" y1="373.06" x2="477.80" y2="373.06" stroke="#444" stroke-width="1.0" />
<line x1="766.10" y1="373.06" x2="772.10" y2="373.06" stroke="#444" stroke-width="1.0" />
<text x="467.30" y="376.46" font-size="12.4" text-anchor="end" fill="#000" stroke="#000" stroke-width="0.18" textLength="11.40" lengthAdjust="spacingAndGlyphs">-4</text>
<line x1="474.80" y1="357.62" x2="477.80" y2="357.62" stroke="#444" stroke-width="1.0" />
<line x1="769.10" y1="357.62" x2="772.10" y2="357.62" stroke="#444" stroke-width="1.0" />
<line x1="471.80" y1="342.18" x2="477.80" y2="342.18" stroke="#444" stroke-width="1.0" />
<line x1="766.10" y1="342.18" x2="772.10" y2="342.18" stroke="#444" stroke-width="1.0" />
<text x="467.30" y="345.58" font-size="12.4" text-anchor="end" fill="#000" stroke="#000" stroke-width="0.18" textLength="11.40" lengthAdjust="spacingAndGlyphs">-2</text>
<line x1="474.80" y1="326.74" x2="477.80" y2="326.74" stroke="#444" stroke-width="1.0" />
<line x1="769.10" y1="326.74" x2="772.10" y2="326.74" stroke="#444" stroke-width="1.0" />
<line x1="471.80" y1="311.30" x2="477.80" y2="311.30" stroke="#444" stroke-width="1.0" />
<line x1="766.10" y1="311.30" x2="772.10" y2="311.30" stroke="#444" stroke-width="1.0" />
<text x="467.30" y="314.70" font-size="12.4" text-anchor="end" fill="#000" stroke="#000" stroke-width="0.18" textLength="7.20" lengthAdjust="spacingAndGlyphs">0</text>
<line x1="477.85" y1="512.60" x2="477.85" y2="515.60" stroke="#444" stroke-width="1.0" />
<line x1="510.55" y1="296.20" x2="510.55" y2="302.20" stroke="#444" stroke-width="1.0" />
<line x1="510.55" y1="512.60" x2="510.55" y2="518.60" stroke="#444" stroke-width="1.0" />
<line x1="543.25" y1="296.20" x2="543.25" y2="299.20" stroke="#444" stroke-width="1.0" />
<line x1="543.25" y1="512.60" x2="543.25" y2="515.60" stroke="#444" stroke-width="1.0" />
<line x1="575.95" y1="296.20" x2="575.95" y2="302.20" stroke="#444" stroke-width="1.0" />
<line x1="575.95" y1="512.60" x2="575.95" y2="518.60" stroke="#444" stroke-width="1.0" />
<line x1="608.65" y1="296.20" x2="608.65" y2="299.20" stroke="#444" stroke-width="1.0" />
<line x1="608.65" y1="512.60" x2="608.65" y2="515.60" stroke="#444" stroke-width="1.0" />
<line x1="641.35" y1="296.20" x2="641.35" y2="302.20" stroke="#444" stroke-width="1.0" />
<line x1="641.35" y1="512.60" x2="641.35" y2="518.60" stroke="#444" stroke-width="1.0" />
<line x1="674.05" y1="296.20" x2="674.05" y2="299.20" stroke="#444" stroke-width="1.0" />
<line x1="674.05" y1="512.60" x2="674.05" y2="515.60" stroke="#444" stroke-width="1.0" />
<line x1="706.75" y1="296.20" x2="706.75" y2="302.20" stroke="#444" stroke-width="1.0" />
<line x1="706.75" y1="512.60" x2="706.75" y2="518.60" stroke="#444" stroke-width="1.0" />
<line x1="739.45" y1="296.20" x2="739.45" y2="299.20" stroke="#444" stroke-width="1.0" />
<line x1="739.45" y1="512.60" x2="739.45" y2="515.60" stroke="#444" stroke-width="1.0" />
<line x1="772.15" y1="512.60" x2="772.15" y2="518.60" stroke="#444" stroke-width="1.0" />
<text x="510.55" y="532.30" font-size="12.4" text-anchor="middle" fill="#000" stroke="#000" stroke-width="0.18" textLength="7.20" lengthAdjust="spacingAndGlyphs">0</text>
<text x="575.95" y="532.30" font-size="12.4" text-anchor="middle" fill="#000" stroke="#000" stroke-width="0.18" textLength="7.20" lengthAdjust="spacingAndGlyphs">2</text>
<text x="641.35" y="532.30" font-size="12.4" text-anchor="middle" fill="#000" stroke="#000" stroke-width="0.18" textLength="7.20" lengthAdjust="spacingAndGlyphs">4</text>
<text x="706.75" y="532.30" font-size="12.4" text-anchor="middle" fill="#000" stroke="#000" stroke-width="0.18" textLength="7.20" lengthAdjust="spacingAndGlyphs">6</text>
<text x="772.15" y="532.30" font-size="12.4" text-anchor="middle" fill="#000" stroke="#000" stroke-width="0.18" textLength="7.20" lengthAdjust="spacingAndGlyphs">8</text>
<text x="437.20" y="415.00" font-size="15.1" text-anchor="middle" fill="#000" stroke="#000" stroke-width="0.35" textLength="158.00" lengthAdjust="spacingAndGlyphs" transform="rotate(-90 437.20 415.00)">kcal/mole of injectant</text>
<text x="624.60" y="558.60" font-size="15.8" text-anchor="middle" fill="#000" stroke="#000" stroke-width="0.35" textLength="86.00" lengthAdjust="spacingAndGlyphs">Molar Ratio</text>
<text x="648.20" y="482.20" font-size="16.8" text-anchor="start" fill="#000" stroke="#000" stroke-width="0.35" textLength="99.50" lengthAdjust="spacingAndGlyphs">Kd = 502 nM</text>
<path d="M511.14,496.04 L513.89,494.31 L516.63,491.53 L519.38,487.94 L522.13,483.47 L524.87,477.94 L527.62,471.11 L530.37,462.76 L533.11,452.72 L535.86,440.98 L538.61,427.80 L541.35,413.72 L544.10,399.53 L546.85,386.04 L549.59,373.89 L552.34,363.40 L555.09,354.62 L557.83,347.41 L560.58,341.56 L563.33,336.83 L566.07,333.00 L568.82,329.88 L571.57,327.34 L574.32,325.24 L577.06,323.50 L579.81,322.05 L582.56,320.82 L585.30,319.78 L588.05,318.90 L590.80,318.14 L593.54,317.48 L596.29,316.90 L599.04,316.40 L601.78,315.96 L604.53,315.57 L607.28,315.23 L610.02,314.92 L612.77,314.65 L615.52,314.40 L618.26,314.18 L621.01,313.98 L623.76,313.80 L626.50,313.63 L629.25,313.48 L632.00,313.34 L634.74,313.21 L637.49,313.10 L640.24,312.99 L642.99,312.89 L645.73,312.80 L648.48,312.72 L651.23,312.64 L653.97,312.57 L656.72,312.50 L659.47,312.43 L662.21,312.38 L664.96,312.32 L667.71,312.27 L670.45,312.22 L673.20,312.17 L675.95,312.13 L678.69,312.09 L681.44,312.05 L684.19,312.02 L686.93,311.98 L689.68,311.95 L692.43,311.92 L695.17,311.89 L697.92,311.86 L700.67,311.84 L703.41,311.81 L706.16,311.79 L708.91,311.77 L711.65,311.75 L714.40,311.73 L717.15,311.71 L719.90,311.69 L722.64,311.67 L725.39,311.65 L728.14,311.64" fill="none" stroke="#555" stroke-width="0.7"/>
<rect x="508.94" y="493.84" width="4.4" height="4.4" fill="#000"/>
<rect x="511.69" y="492.11" width="4.4" height="4.4" fill="#000"/>
<rect x="514.43" y="489.33" width="4.4" height="4.4" fill="#000"/>
<rect x="517.18" y="485.74" width="4.4" height="4.4" fill="#000"/>
<rect x="519.93" y="481.27" width="4.4" height="4.4" fill="#000"/>
<rect x="522.67" y="475.74" width="4.4" height="4.4" fill="#000"/>
<rect x="525.42" y="468.91" width="4.4" height="4.4" fill="#000"/>
<rect x="528.17" y="460.56" width="4.4" height="4.4" fill="#000"/>
<rect x="530.91" y="450.52" width="4.4" height="4.4" fill="#000"/>
<rect x="533.66" y="438.78" width="4.4" height="4.4" fill="#000"/>
<rect x="536.41" y="425.60" width="4.4" height="4.4" fill="#000"/>
<rect x="539.15" y="411.52" width="4.4" height="4.4" fill="#000"/>
<rect x="541.90" y="397.33" width="4.4" height="4.4" fill="#000"/>
<rect x="544.65" y="383.84" width="4.4" height="4.4" fill="#000"/>
<rect x="547.39" y="371.69" width="4.4" height="4.4" fill="#000"/>
<rect x="550.14" y="361.20" width="4.4" height="4.4" fill="#000"/>
<rect x="552.89" y="352.42" width="4.4" height="4.4" fill="#000"/>
<rect x="555.63" y="345.21" width="4.4" height="4.4" fill="#000"/>
<rect x="558.38" y="339.36" width="4.4" height="4.4" fill="#000"/>
<rect x="561.13" y="334.63" width="4.4" height="4.4" fill="#000"/>
<rect x="563.87" y="330.80" width="4.4" height="4.4" fill="#000"/>
<rect x="566.62" y="327.68" width="4.4" height="4.4" fill="#000"/>
<rect x="569.37" y="325.14" width="4.4" height="4.4" fill="#000"/>
<rect x="572.12" y="323.04" width="4.4" height="4.4" fill="#000"/>
<rect x="574.86" y="321.30" width="4.4" height="4.4" fill="#000"/>
<rect x="577.61" y="319.85" width="4.4" height="4.4" fill="#000"/>
<rect x="580.36" y="318.62" width="4.4" height="4.4" fill="#000"/>
<rect x="583.10" y="317.58" width="4.4" height="4.4" fill="#000"/>
<rect x="585.85" y="316.70" width="4.4" height="4.4" fill="#000"/>
<rect x="588.60" y="315.94" width="4.4" height="4.4" fill="#000"/>
<rect x="591.34" y="315.28" width="4.4" height="4.4" fill="#000"/>
<rect x="594.09" y="314.70" width="4.4" height="4.4" fill="#000"/>
<rect x="596.84" y="314.20" width="4.4" height="4.4" fill="#000"/>
<rect x="599.58" y="313.76" width="4.4" height="4.4" fill="#000"/>
<rect x="602.33" y="313.37" width="4.4" height="4.4" fill="#000"/>
<rect x="605.08" y="313.03" width="4.4" height="4.4" fill="#000"/>
<rect x="607.82" y="312.72" width="4.4" height="4.4" fill="#000"/>
<rect x="610.57" y="312.45" width="4.4" height="4.4" fill="#000"/>
<rect x="613.32" y="312.20" width="4.4" height="4.4" fill="#000"/>
<rect x="616.06" y="311.98" width="4.4" height="4.4" fill="#000"/>
<rect x="618.81" y="311.78" width="4.4" height="4.4" fill="#000"/>
<rect x="621.56" y="311.60" width="4.4" height="4.4" fill="#000"/>
<rect x="624.30" y="311.43" width="4.4" height="4.4" fill="#000"/>
<rect x="627.05" y="311.28" width="4.4" height="4.4" fill="#000"/>
<rect x="629.80" y="311.14" width="4.4" height="4.4" fill="#000"/>
<rect x="632.54" y="311.01" width="4.4" height="4.4" fill="#000"/>
<rect x="635.29" y="310.90" width="4.4" height="4.4" fill="#000"/>
<rect x="638.04" y="310.79" width="4.4" height="4.4" fill="#000"/>
<rect x="640.78" y="310.69" width="4.4" height="4.4" fill="#000"/>
<rect x="643.53" y="310.60" width="4.4" height="4.4" fill="#000"/>
<rect x="646.28" y="310.52" width="4.4" height="4.4" fill="#000"/>
<rect x="649.03" y="310.44" width="4.4" height="4.4" fill="#000"/>
<rect x="651.77" y="310.37" width="4.4" height="4.4" fill="#000"/>
<rect x="654.52" y="310.30" width="4.4" height="4.4" fill="#000"/>
<rect x="657.27" y="310.23" width="4.4" height="4.4" fill="#000"/>
<rect x="660.01" y="310.18" width="4.4" height="4.4" fill="#000"/>
<rect x="662.76" y="310.12" width="4.4" height="4.4" fill="#000"/>
<rect x="665.51" y="310.07" width="4.4" height="4.4" fill="#000"/>
<rect x="668.25" y="310.02" width="4.4" height="4.4" fill="#000"/>
<rect x="671.00" y="309.97" width="4.4" height="4.4" fill="#000"/>
<rect x="673.75" y="309.93" width="4.4" height="4.4" fill="#000"/>
<rect x="676.49" y="309.89" width="4.4" height="4.4" fill="#000"/>
<rect x="679.24" y="309.85" width="4.4" height="4.4" fill="#000"/>
<rect x="681.99" y="309.82" width="4.4" height="4.4" fill="#000"/>
<rect x="684.73" y="309.78" width="4.4" height="4.4" fill="#000"/>
<rect x="687.48" y="309.75" width="4.4" height="4.4" fill="#000"/>
<rect x="690.23" y="309.72" width="4.4" height="4.4" fill="#000"/>
<rect x="692.97" y="309.69" width="4.4" height="4.4" fill="#000"/>
<rect x="695.72" y="309.66" width="4.4" height="4.4" fill="#000"/>
<rect x="698.47" y="309.64" width="4.4" height="4.4" fill="#000"/>
<rect x="701.21" y="309.61" width="4.4" height="4.4" fill="#000"/>
<rect x="703.96" y="309.59" width="4.4" height="4.4" fill="#000"/>
<rect x="706.71" y="309.57" width="4.4" height="4.4" fill="#000"/>
<rect x="709.45" y="309.55" width="4.4" height="4.4" fill="#000"/>
<rect x="712.20" y="309.53" width="4.4" height="4.4" fill="#000"/>
<rect x="714.95" y="309.51" width="4.4" height="4.4" fill="#000"/>
<rect x="717.70" y="309.49" width="4.4" height="4.4" fill="#000"/>
<rect x="720.44" y="309.47" width="4.4" height="4.4" fill="#000"/>
<rect x="723.19" y="309.45" width="4.4" height="4.4" fill="#000"/>
<rect x="725.94" y="309.44" width="4.4" height="4.4" fill="#000"/>
</svg>
</body></html>
